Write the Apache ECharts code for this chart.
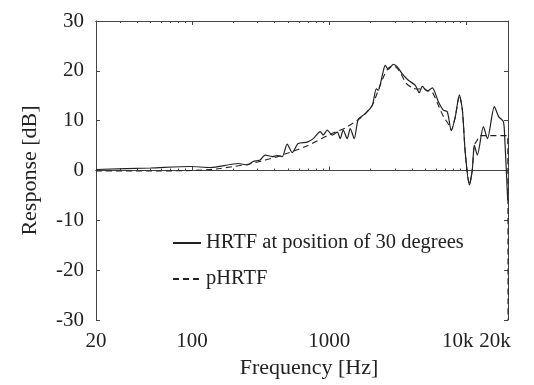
<!DOCTYPE html>
<html>
<head>
<meta charset="utf-8">
<script src="https://cdn.jsdelivr.net/npm/echarts@6/dist/echarts.min.js"></script>
<style>
  html, body { margin: 0; padding: 0; background: #fff; }
  #chart { width: 534px; height: 385px; }
</style>
</head>
<body>
<div id="chart"></div>
<script>
  const hrtfFreq = [20, 50, 97, 136, 190, 217, 252, 279, 313, 341, 384, 417, 454, 493, 537, 593, 690, 764, 859, 903, 966, 1050, 1143, 1200, 1262, 1350, 1420, 1518, 1625, 1828, 2056, 2198, 2272, 2430, 2554, 2686, 2922, 3126, 3400, 3760, 4226, 4520, 4753, 5170, 5624, 6224, 6766, 7230, 7730, 8270, 8850, 9310, 9780, 10460, 10990, 11370, 11960, 13240, 14160, 15920, 17100, 18500, 18900, 19900];
  const hrtfDb = [0.2, 0.5, 0.8, 0.6, 1.2, 1.4, 1.1, 1.8, 2.1, 3.1, 2.8, 3.0, 2.8, 5.3, 3.6, 5.4, 5.7, 6.4, 7.8, 7.1, 8.1, 7.1, 7.7, 6.4, 8.1, 6.4, 8.4, 6.4, 10.3, 11.4, 13.1, 16.4, 16.1, 19.1, 21.1, 20.3, 21.3, 20.8, 19.4, 18.1, 17.1, 15.6, 16.9, 15.9, 16.6, 13.8, 12.1, 11.8, 8.0, 10.8, 15.2, 12.1, 3.4, -2.9, 0.1, 5.1, 3.1, 8.8, 6.4, 12.8, 10.8, 9.8, 7.0, -6.0];

  // pHRTF
  const phrtfFreq = [20, 50, 100, 150, 200, 250, 300, 400, 500, 700, 1000, 1300, 1550, 1625, 1828, 2056, 2300, 2500, 2700, 3000, 3300, 3600, 4000, 4400, 4800, 5200, 5600, 6200, 6800, 7300, 7730, 8270, 8850, 9310, 9780, 10460, 10990, 11370, 11960, 12500, 19900, 20000];
  const phrtfDb = [-0.1, -0.1, 0.0, 0.3, 0.8, 1.2, 1.7, 2.6, 3.5, 5.0, 7.2, 8.5, 9.8, 10.2, 11.4, 13.1, 16.5, 19.0, 20.6, 20.9, 19.6, 17.6, 16.6, 16.3, 16.5, 16.0, 15.8, 13.2, 10.7, 9.5, 8.1, 10.8, 15.1, 12.1, 3.4, -2.9, 0.1, 5.1, 6.1, 7.0, 7.0, -30];

  const freqLabels = [20, 100, 1000, 10000, 20000];
  const majorTicks = [100, 1000, 10000];
  const minorTicks = [30, 40, 50, 60, 70, 80, 90, 200, 300, 400, 500, 600, 700, 800, 900, 2000, 3000, 4000, 5000, 6000, 7000, 8000, 9000];

  const lg = Math.log10;
  const toPoints = (freq, db) => freq.map((f, i) => [lg(f), db[i]]);

  const font = 'Liberation Serif';
  const ink = '#222';
  const frame = '#444';

  const fmtFreq = v => {
    const f = Math.round(Math.pow(10, v));
    if (f === 10000) return '{k10|10k}';
    if (f === 20000) return '{k20|20k}';
    return String(f);
  };

  const xBase = {
    type: 'value',
    min: lg(20),
    max: lg(20000),
    splitLine: { show: false },
    axisLine: { show: true, lineStyle: { color: frame, width: 1 } },
    axisLabel: { show: false },
    axisTick: { show: false }
  };

  const ticksX = (pos, vals, len, withLabels) => Object.assign({}, xBase, {
    position: pos,
    axisTick: {
      show: true, inside: true, length: len,
      customValues: vals.map(lg),
      lineStyle: { color: frame, width: 1 }
    },
    axisLabel: withLabels ? {
      show: true,
      customValues: freqLabels.map(lg),
      formatter: fmtFreq,
      fontFamily: font, fontSize: 21, color: ink, margin: 11,
      rich: {
        k10: { fontFamily: font, fontSize: 21, color: ink, padding: [0, 18, 0, 0] },
        k20: { fontFamily: font, fontSize: 21, color: ink, padding: [0, 26, 0, 0] }
      }
    } : { show: false }
  });

  const yBase = pos => ({
    type: 'value',
    position: pos,
    min: -30, max: 30, interval: 10,
    splitLine: { show: false },
    axisLine: { show: true, lineStyle: { color: frame, width: 1 } },
    axisTick: { show: true, inside: true, length: 4, lineStyle: { color: frame } },
    axisLabel: { show: false }
  });

  const chart = echarts.init(document.getElementById('chart'), null, { renderer: 'canvas' });

  const xMain = ticksX('bottom', majorTicks, 4, true);
  xMain.name = 'Frequency [Hz]';
  xMain.nameLocation = 'middle';
  xMain.nameGap = 35;
  xMain.nameTextStyle = { fontFamily: font, fontSize: 22, color: ink, padding: [0, 0, 0, 14] };

  const yMain = yBase('left');
  yMain.axisLabel = { show: true, fontFamily: font, fontSize: 21, color: ink, margin: 12 };
  yMain.name = 'Response [dB]';
  yMain.nameLocation = 'middle';
  yMain.nameGap = 55;
  yMain.nameTextStyle = { fontFamily: font, fontSize: 22, color: ink };

  chart.setOption({
    animation: false,
    backgroundColor: '#fff',
    grid: { left: 96, right: 26, top: 21, bottom: 65, containLabel: false, outerBoundsMode: 'none' },
    legend: {
      orient: 'vertical',
      left: 167,
      top: 227,
      itemWidth: 28,
      itemHeight: 14,
      itemGap: 14,
      itemStyle: { opacity: 0 },
      textStyle: { fontFamily: font, fontSize: 20.5, color: ink, lineHeight: 22 },
      data: ['HRTF at position of 30 degrees', 'pHRTF']
    },
    xAxis: [
      xMain,
      ticksX('bottom', minorTicks, 2, false),
      ticksX('top', majorTicks, 4, false),
      ticksX('top', minorTicks, 2, false)
    ],
    yAxis: [yMain, yBase('right')],
    series: [
      {
        name: 'HRTF at position of 30 degrees',
        type: 'line',
        symbol: 'none',
        smooth: 0.25,
        xAxisIndex: 0,
        data: toPoints(hrtfFreq, hrtfDb),
        lineStyle: { color: ink, width: 1.2, type: 'solid' },
        itemStyle: { color: ink },
        z: 3
      },
      {
        name: 'pHRTF',
        type: 'line',
        symbol: 'none',
        smooth: 0.2,
        xAxisIndex: 0,
        data: toPoints(phrtfFreq, phrtfDb),
        lineStyle: { color: ink, width: 1.1, type: [6, 4] },
        itemStyle: { color: ink },
        z: 2
      }
    ]
  });
</script>
</body>
</html>
